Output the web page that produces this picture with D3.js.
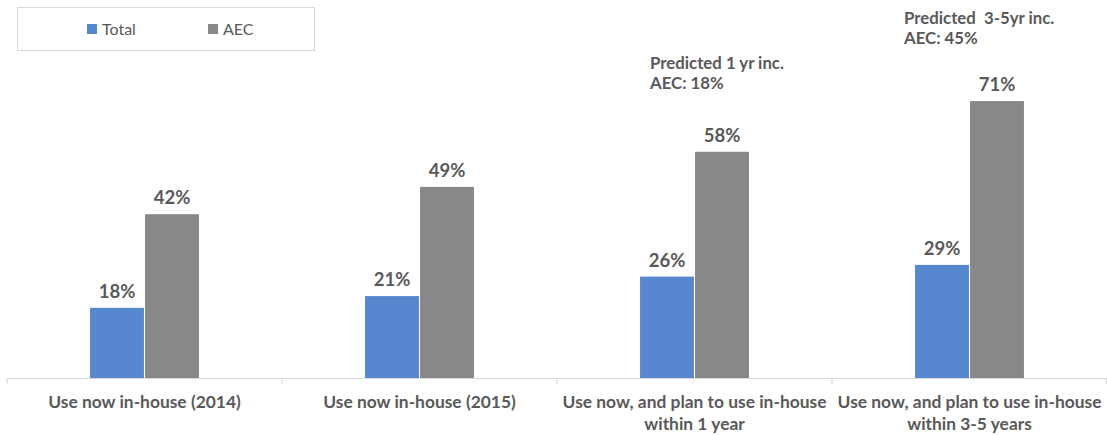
<!DOCTYPE html>
<html>
<head>
<meta charset="utf-8">
<script src="https://cdn.jsdelivr.net/npm/d3@7"></script>
<style>
  html, body { margin: 0; padding: 0; background: #fff; }
  svg { display: block; font-family: Lato, "Open Sans", sans-serif; }
  text { white-space: pre; }
</style>
</head>
<body>
<svg id="chart" width="1107" height="435"></svg>
<script>
const categories = [
  "Use now in-house (2014)",
  "Use now in-house (2015)",
  "Use now, and plan to use in-house\nwithin 1 year",
  "Use now, and plan to use in-house\nwithin 3-5 years"
];
const seriesNames = ["Total", "AEC"];
const totalValues = [18, 21, 26, 29];
const aecValues = [42, 49, 58, 71];
const annotations = [
  null,
  null,
  ["Predicted 1 yr inc.", "AEC: 18%"],
  ["Predicted  3-5yr inc.", "AEC: 45%"]
];
const colors = ["#5787CE", "#888888"];

// annotation placement relative to AEC bar (dx from bar left, dy above bar top)
const annLayout = [null, null, { dx: -45, dy: 63 }, { dx: -66, dy: 57 }];

const svg = d3.select("#chart");
const textColor = "#595959";

const x0 = d3.scaleBand().domain(categories).range([7, 1107]).paddingInner(0).paddingOuter(0);
const bw = x0.bandwidth();
const x1 = d3.scaleBand().domain(seriesNames).range([bw * 0.302, bw * 0.698]).paddingInner(0.02);
const y = d3.scaleLinear().domain([0, 80]).range([378, 66]);

const data = categories.map((c, i) => ({ cat: c, vals: [
  { name: "Total", v: totalValues[i] },
  { name: "AEC", v: aecValues[i] }
]}));

// axis
const xAxis = d3.axisBottom(x0).tickSize(0).tickFormat("");
const ax = svg.append("g").attr("transform", `translate(0,${y(0)})`).call(xAxis);
ax.select(".domain").attr("stroke", "#d9d9d9").attr("stroke-width", 1.2);
const bounds = categories.map(c => x0(c)).concat([x0(categories[categories.length - 1]) + bw]);
svg.append("g").selectAll("line").data(bounds).join("line")
  .attr("x1", d => Math.min(d, 1106)).attr("x2", d => Math.min(d, 1106))
  .attr("y1", y(0)).attr("y2", y(0) + 6)
  .attr("stroke", "#d9d9d9").attr("stroke-width", 1.2);

// bars
const groups = svg.append("g").selectAll("g").data(data).join("g")
  .attr("transform", d => `translate(${x0(d.cat)},0)`);
groups.selectAll("rect").data(d => d.vals).join("rect")
  .attr("x", d => x1(d.name))
  .attr("width", x1.bandwidth())
  .attr("y", d => y(d.v))
  .attr("height", d => y(0) - y(d.v))
  .attr("fill", (d, i) => colors[i]);
groups.selectAll("text.val").data(d => d.vals).join("text")
  .attr("class", "val")
  .attr("x", d => x1(d.name) + x1.bandwidth() / 2)
  .attr("y", d => y(d.v) - 10)
  .attr("text-anchor", "middle")
  .attr("fill", textColor)
  .attr("font-weight", "bold")
  .attr("font-size", 18.5)
  .text(d => d.v + "%");

// category labels
const catLabels = svg.append("g").selectAll("text").data(categories).join("text")
  .attr("text-anchor", "middle")
  .attr("fill", textColor)
  .attr("font-weight", "bold")
  .attr("font-size", 17.4)
  .attr("transform", d => `translate(${x0(d) + bw / 2},0)`);
catLabels.selectAll("tspan").data(d => d.split("\n")).join("tspan")
  .attr("x", 0)
  .attr("y", (d, i) => 408 + i * 22)
  .text(d => d);

// annotations
data.forEach((d, i) => {
  const a = annotations[i];
  if (!a) return;
  const L = annLayout[i];
  const xs = x0(d.cat) + x1("AEC") + L.dx;
  const base = y(aecValues[i]) - L.dy;
  const t = svg.append("text")
    .attr("fill", textColor)
    .attr("font-weight", "bold")
    .attr("font-size", 16.8)
    .attr("xml:space", "preserve");
  a.forEach((line, j) => {
    t.append("tspan").attr("x", xs).attr("y", base - (a.length - 1 - j) * 20).text(line);
  });
});

// legend
const lg = svg.append("g");
lg.append("rect").attr("x", 17.5).attr("y", 7.5).attr("width", 297).attr("height", 43)
  .attr("fill", "#fff").attr("stroke", "#d9d9d9");
const legendX = [87, 208];
seriesNames.forEach((s, i) => {
  lg.append("rect").attr("x", legendX[i]).attr("y", 24).attr("width", 10).attr("height", 10).attr("fill", colors[i]);
  lg.append("text").attr("x", legendX[i] + 15).attr("y", 34.5)
    .attr("fill", textColor).attr("font-size", 16).text(s);
});
</script>
</body>
</html>
